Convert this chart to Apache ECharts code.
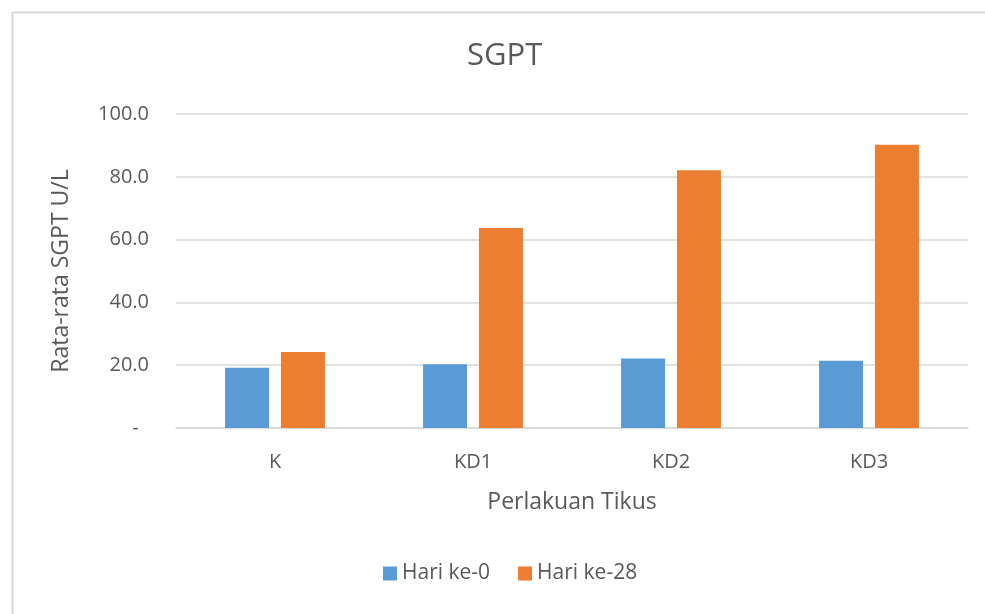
<!DOCTYPE html>
<html>
<head>
<meta charset="utf-8">
<script src="https://cdn.jsdelivr.net/npm/echarts@6/dist/echarts.min.js"></script>
<style>
  html, body { margin: 0; padding: 0; background: #fff; }
  #chart { width: 985px; height: 614px; }
</style>
</head>
<body>
<div id="chart"></div>
<script>
const categories = ['K', 'KD1', 'KD2', 'KD3'];
const hari0 = [19.2, 20.3, 22.1, 21.4];
const hari28 = [24.2, 63.7, 82.1, 90.2];
const seriesNames = ['Hari ke-0', 'Hari ke-28'];

const textColor = '#595959';
const font = '"Open Sans", "Noto Sans", sans-serif';

const chart = echarts.init(document.getElementById('chart'), null, { renderer: 'canvas' });
chart.setOption({
  animation: false,
  backgroundColor: '#fff',
  textStyle: { fontFamily: font },
  graphic: [{
    type: 'rect',
    left: 10, top: 10,
    shape: { width: 990, height: 620 },
    style: { fill: 'none', stroke: '#d9d9d9', lineWidth: 2 },
    silent: true
  }],
  title: {
    text: 'SGPT',
    left: 462,
    top: 36,
    textStyle: { fontFamily: font, fontSize: 31, fontWeight: 'normal', color: textColor }
  },
  legend: {
    data: seriesNames,
    bottom: 25,
    left: 378,
    itemWidth: 14,
    itemHeight: 14,
    itemGap: 28,
    icon: 'rect',
    textStyle: { fontFamily: font, fontSize: 21, color: textColor }
  },
  grid: { left: 176, right: 17, top: 114, bottom: 186 },
  xAxis: {
    type: 'category',
    data: categories,
    name: 'Perlakuan Tikus',
    nameLocation: 'middle',
    nameGap: 63,
    nameTextStyle: { fontFamily: font, fontSize: 23, color: textColor },
    axisTick: { show: false },
    axisLine: { lineStyle: { color: '#d9d9d9', width: 1.5 } },
    axisLabel: { fontFamily: font, fontSize: 20, color: textColor, margin: 24 }
  },
  yAxis: {
    type: 'value',
    min: 0,
    max: 100,
    interval: 20,
    name: 'Rata-rata SGPT U/L',
    nameLocation: 'middle',
    nameGap: 103,
    nameTextStyle: { fontFamily: font, fontSize: 23, color: textColor },
    axisLine: { show: false },
    axisTick: { show: false },
    splitLine: { lineStyle: { color: '#d9d9d9', width: 1.5 } },
    axisLabel: {
      fontFamily: font, fontSize: 20, color: textColor, margin: 27,
      formatter: v => v === 0 ? '-  ' : v.toFixed(1)
    }
  },
  series: [
    {
      name: seriesNames[0],
      type: 'bar',
      data: hari0,
      barWidth: 44,
      barGap: '27%',
      itemStyle: { color: '#5b9bd5' }
    },
    {
      name: seriesNames[1],
      type: 'bar',
      data: hari28,
      barWidth: 44,
      itemStyle: { color: '#ed7d31' }
    }
  ]
});
</script>
</body>
</html>
